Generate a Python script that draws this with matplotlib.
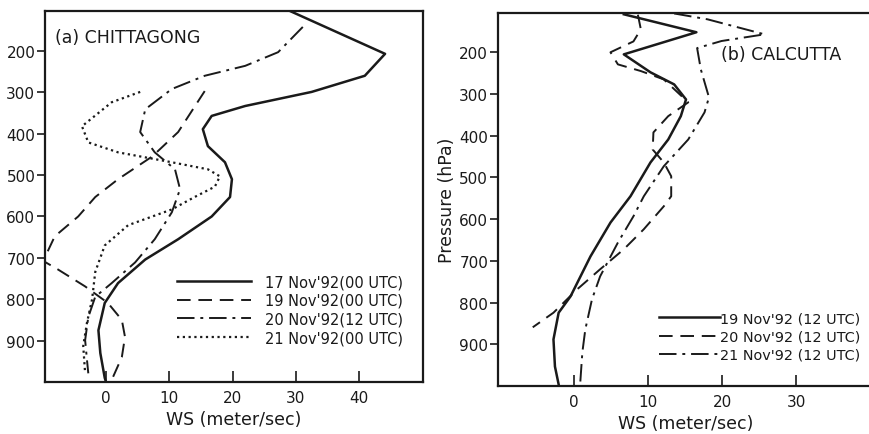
import numpy as np
import matplotlib
matplotlib.use("Agg")
import matplotlib.pyplot as plt

# (a) Chittagong: wind speed (m/s) vs pressure (hPa)
ctg_17_p = [103, 207, 260, 299, 333, 357, 389, 430, 469, 510, 553, 600, 655, 704, 761, 809, 875, 930, 990, 1000]
ctg_17_ws = [29.0, 44.1, 40.9, 32.5, 22.0, 16.7, 15.3, 16.1, 18.8, 19.9, 19.6, 16.7, 11.4, 6.2, 1.9, -0.2, -1.2, -0.9, -0.2, 0.0]

ctg_19_p = [297, 396, 455, 510, 553, 600, 648, 687, 705, 728, 769, 809, 850, 891, 940, 995, 1000]
ctg_19_ws = [15.6, 11.4, 7.3, 1.9, -1.7, -4.4, -8.1, -9.3, -10.2, -7.6, -3.3, 0.3, 2.5, 3.0, 2.5, 0.9, 0.8]

ctg_20_p = [142, 203, 236, 260, 292, 341, 396, 445, 486, 534, 590, 655, 711, 761, 794, 843, 899, 948, 979]
ctg_20_ws = [31.1, 27.2, 22.0, 15.6, 10.4, 6.2, 5.4, 7.7, 10.9, 11.7, 10.4, 7.7, 4.6, 0.9, -1.7, -2.8, -3.3, -3.0, -2.8]

ctg_21_p = [299, 324, 382, 421, 445, 469, 486, 503, 528, 553, 583, 621, 670, 734, 800, 856, 913, 979]
ctg_21_ws = [5.4, 0.9, -3.8, -2.8, 1.9, 10.4, 16.1, 18.0, 17.2, 14.0, 10.4, 3.5, -0.2, -1.7, -2.2, -3.0, -3.6, -3.3]

# (b) Calcutta
cal_19_p = [109, 152, 205, 248, 277, 313, 353, 409, 464, 545, 608, 689, 785, 824, 888, 953, 996]
cal_19_ws = [6.7, 16.5, 6.7, 10.3, 13.5, 15.1, 14.4, 12.7, 10.3, 7.6, 4.9, 2.2, -0.5, -2.1, -2.8, -2.6, -2.1]

cal_20_p = [110, 145, 174, 200, 229, 245, 265, 320, 353, 392, 433, 464, 497, 545, 569, 624, 672, 720, 768, 824, 859]
cal_20_ws = [8.6, 9.0, 8.0, 4.9, 5.9, 9.0, 12.1, 15.4, 12.7, 10.7, 10.6, 12.1, 13.1, 13.1, 12.1, 9.4, 6.7, 3.5, 0.4, -2.8, -5.6]

cal_21_p = [107, 121, 157, 173, 190, 241, 308, 344, 409, 473, 545, 593, 656, 737, 792, 864, 919, 996]
cal_21_ws = [13.5, 18.0, 25.7, 19.9, 16.6, 17.1, 18.2, 17.6, 15.4, 12.1, 9.4, 8.0, 5.9, 3.5, 2.4, 1.5, 1.1, 0.8]

ctg_labels = ["17 Nov'92(00 UTC)", "19 Nov'92(00 UTC)", "20 Nov'92(12 UTC)", "21 Nov'92(00 UTC)"]
cal_labels = ["19 Nov'92 (12 UTC)", "20 Nov'92 (12 UTC)", "21 Nov'92 (12 UTC)"]

p_ticks = [200, 300, 400, 500, 600, 700, 800, 900]

plt.rcParams['font.family'] = ['DejaVu Sans']
c = '#1a1a1a'
sty_solid = dict(color=c, lw=1.8, ls='-')
sty_dash = dict(color=c, lw=1.4, ls=(0, (7, 4)))
sty_dashdot = dict(color=c, lw=1.4, ls=(0, (9, 3, 1.5, 3)))
sty_dot = dict(color=c, lw=1.6, ls=(0, (1, 1.6)))

fig = plt.figure(figsize=(8.69, 4.35), dpi=100)
ax1 = fig.add_axes([0.0518, 0.1195, 0.435, 0.853])
ax2 = fig.add_axes([0.573, 0.110, 0.432, 0.858])


def style_axis(ax, xmin, xmax, ytop, xticks):
    ax.set_xlim(xmin, xmax)
    ax.set_ylim(1000, ytop)
    ax.set_yticks(p_ticks)
    ax.set_xticks(xticks)
    ax.tick_params(axis='y', direction='out', length=6, width=1.2, labelsize=11, pad=1, colors=c)
    ax.tick_params(axis='x', direction='in', length=8, width=1.2, labelsize=11, pad=6, colors=c)
    for s in ax.spines.values():
        s.set_linewidth(1.6)
        s.set_color(c)
    ax.set_xlabel('WS (meter/sec)', fontsize=12.5, color=c, labelpad=3)


ax1.plot(ctg_17_ws, ctg_17_p, label=ctg_labels[0], **sty_solid)
ax1.plot(ctg_19_ws, ctg_19_p, label=ctg_labels[1], **sty_dash)
ax1.plot(ctg_20_ws, ctg_20_p, label=ctg_labels[2], **sty_dashdot)
ax1.plot(ctg_21_ws, ctg_21_p, label=ctg_labels[3], **sty_dot)
style_axis(ax1, -9.64, 50.1, 103.4, [0, 10, 20, 30, 40])
ax1.text(0.027, 0.955, '(a) CHITTAGONG', transform=ax1.transAxes, fontsize=12.5,
         color=c, va='top', ha='left')
ax1.legend(loc='upper left', bbox_to_anchor=(0.33, 0.31), frameon=False, fontsize=10.5,
           handlelength=5.1, handletextpad=0.9, labelspacing=0.25, borderpad=0,
           labelcolor=c)

ax2.plot(cal_19_ws, cal_19_p, label=cal_labels[0], **sty_solid)
ax2.plot(cal_20_ws, cal_20_p, label=cal_labels[1], **sty_dash)
ax2.plot(cal_21_ws, cal_21_p, label=cal_labels[2], **sty_dashdot)
style_axis(ax2, -10.3, 40.4, 105.7, [0, 10, 20, 30])
ax2.spines['right'].set_visible(False)
ax2.set_ylabel('Pressure (hPa)', fontsize=12.5, color=c, labelpad=2)
ax2.text(0.595, 0.89, '(b) CALCUTTA', transform=ax2.transAxes, fontsize=12.5,
         color=c, va='center', ha='left')
ax2.legend(loc='upper left', bbox_to_anchor=(0.41, 0.22), frameon=False, fontsize=10.4,
           handlelength=4.2, handletextpad=0.0, labelspacing=0.3, borderpad=0,
           labelcolor=c)

fig.savefig('out.png', dpi=100, facecolor='white')
